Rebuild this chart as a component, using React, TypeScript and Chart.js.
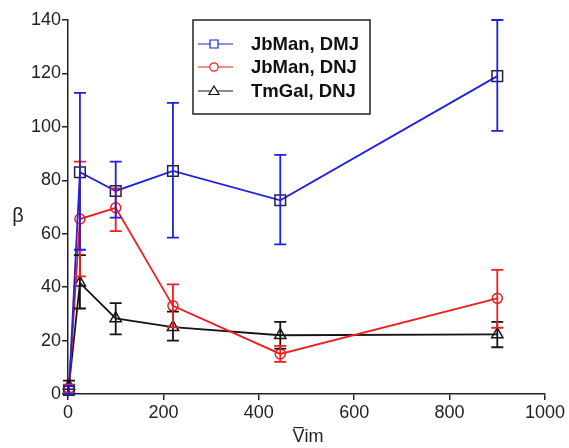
import React, { useEffect, useRef } from "react";
import { Chart, registerables } from "chart.js";

Chart.register(...registerables);

const xValues = [2, 25, 100, 220, 445, 900];

const seriesLabels = ["JbMan, DMJ", "JbMan, DNJ", "TmGal, DNJ"];

const blueY = [1.5, 83, 76, 83.5, 72.5, 119];
const blueLow = [0, 54, 66, 58.5, 56, 98.5];
const blueHigh = [3, 112.7, 87, 109, 89.5, 140];

const redY = [2, 65.5, 69.7, 33, 15, 35.8];
const redLow = [0.5, 44, 61, 25, 12, 24.8];
const redHigh = [3.5, 87, 77, 41, 18, 46.5];

const blackY = [3, 41.6, 28.3, 25, 22, 22.3];
const blackLow = [0.5, 32, 22.3, 20, 17, 17.5];
const blackHigh = [5, 52, 34, 30.8, 27, 27];

const xTicks = [0, 200, 400, 600, 800, 1000];
const yTicks = [0, 20, 40, 60, 80, 100, 120, 140];

const BLUE = "#1f1fe6";
const RED = "#f01e1e";
const BLACK = "#141414";

const errLows = [blueLow, redLow, blackLow];
const errHighs = [blueHigh, redHigh, blackHigh];
const lineColors = [BLUE, RED, BLACK];
const pointStyles = ["rect", "circle", "triangle"];
const pointBorders = ["#202048", RED, BLACK];
const pointRadii = [7.5, 5, 6.5];

const FONT = '"Liberation Sans", Arial, sans-serif';

const errorBarPlugin = {
  id: "errorBars",
  afterDatasetsDraw(chart: any) {
    const ctx = chart.ctx;
    const xs = chart.scales.x;
    const ys = chart.scales.y;
    for (let d = chart.data.datasets.length - 1; d >= 0; d--) {
      const lo = errLows[d];
      const hi = errHighs[d];
      ctx.save();
      ctx.strokeStyle = lineColors[d];
      ctx.lineWidth = 1.8;
      for (let i = 0; i < xValues.length; i++) {
        const px = xs.getPixelForValue(xValues[i]);
        const pl = ys.getPixelForValue(lo[i]);
        const ph = ys.getPixelForValue(hi[i]);
        ctx.beginPath();
        ctx.moveTo(px, pl);
        ctx.lineTo(px, ph);
        ctx.moveTo(px - 6, pl);
        ctx.lineTo(px + 6, pl);
        ctx.moveTo(px - 6, ph);
        ctx.lineTo(px + 6, ph);
        ctx.stroke();
      }
      ctx.restore();
    }
  },
};

const extrasPlugin = {
  id: "extras",
  afterDraw(chart: any) {
    const ctx = chart.ctx;
    ctx.save();
    // axis titles
    ctx.fillStyle = "#222";
    ctx.textAlign = "center";
    ctx.textBaseline = "middle";
    ctx.font = `20px ${FONT}`;
    ctx.fillText("β", 18, 216);
    ctx.font = `18px ${FONT}`;
    ctx.fillText("V\u0305im", 308, 437);

    // legend box
    const bx = 193, by = 20, bw = 177, bh = 94;
    ctx.fillStyle = "#fff";
    ctx.fillRect(bx, by, bw, bh);
    ctx.strokeStyle = "#222";
    ctx.lineWidth = 1.5;
    ctx.strokeRect(bx, by, bw, bh);
    const rows = [44, 67, 91];
    ctx.font = `bold 18.5px ${FONT}`;
    ctx.textAlign = "left";
    for (let i = 0; i < seriesLabels.length; i++) {
      const y = rows[i];
      ctx.strokeStyle = lineColors[i];
      ctx.lineWidth = 1.2;
      ctx.beginPath();
      ctx.moveTo(198, y);
      ctx.lineTo(233, y);
      ctx.stroke();
      const cx = 214;
      ctx.beginPath();
      if (i === 0) {
        ctx.rect(cx - 4, y - 4, 8, 8);
      } else if (i === 1) {
        ctx.arc(cx, y, 4.2, 0, Math.PI * 2);
      } else {
        ctx.moveTo(cx, y - 5);
        ctx.lineTo(cx + 5, y + 3.5);
        ctx.lineTo(cx - 5, y + 3.5);
        ctx.closePath();
      }
      ctx.fillStyle = "#fff";
      ctx.fill();
      ctx.stroke();
      ctx.fillStyle = "#111";
      ctx.fillText(seriesLabels[i], 251, y + 1);
    }
    ctx.restore();
  },
};

export default function App() {
  const ref = useRef<HTMLCanvasElement | null>(null);
  useEffect(() => {
    document.body.style.margin = "0";
    if (!ref.current) return;
    const ys = [blueY, redY, blackY];
    const chart = new Chart(ref.current, {
      type: "line",
      data: {
        datasets: ys.map((vals, d) => ({
          label: seriesLabels[d],
          data: xValues.map((x, i) => ({ x, y: vals[i] })),
          borderColor: lineColors[d],
          borderWidth: 1.8,
          pointStyle: pointStyles[d] as any,
          pointRadius: pointRadii[d],
          pointBorderColor: pointBorders[d],
          pointBackgroundColor: "rgba(0,0,0,0)",
          pointBorderWidth: 1.5,
          tension: 0,
          clip: false as any,
        })),
      },
      options: {
        animation: false,
        responsive: false,
        events: [],
        layout: { padding: { left: 0, top: 20, right: 24, bottom: 0 } },
        plugins: {
          legend: { display: false },
          tooltip: { enabled: false },
        },
        scales: {
          x: {
            type: "linear",
            min: 0,
            max: 1000,
            afterBuildTicks: (s: any) => {
              s.ticks = xTicks.map((v) => ({ value: v }));
            },
            afterFit: (s: any) => {
              s.height = 54;
            },
            ticks: {
              color: "#222",
              font: { family: FONT, size: 18 },
              padding: 2,
              maxRotation: 0,
              callback: (v: any) => String(v),
            },
            grid: { drawOnChartArea: false, drawTicks: true, tickLength: 6, color: "#222", lineWidth: 1.5 },
            border: { display: true, color: "#222", width: 1.5 },
          },
          y: {
            type: "linear",
            min: 0,
            max: 140,
            afterBuildTicks: (s: any) => {
              s.ticks = yTicks.map((v) => ({ value: v }));
            },
            afterFit: (s: any) => {
              s.width = 68;
            },
            ticks: {
              color: "#222",
              font: { family: FONT, size: 18 },
              padding: 1,
              callback: (v: any) => String(v),
            },
            grid: { drawOnChartArea: false, drawTicks: true, tickLength: 6, color: "#222", lineWidth: 1.5 },
            border: { display: true, color: "#222", width: 1.5 },
          },
        },
      },
      plugins: [errorBarPlugin, extrasPlugin],
    });
    return () => chart.destroy();
  }, []);
  return <canvas ref={ref} width={569} height={448} style={{ display: "block" }} />;
}
